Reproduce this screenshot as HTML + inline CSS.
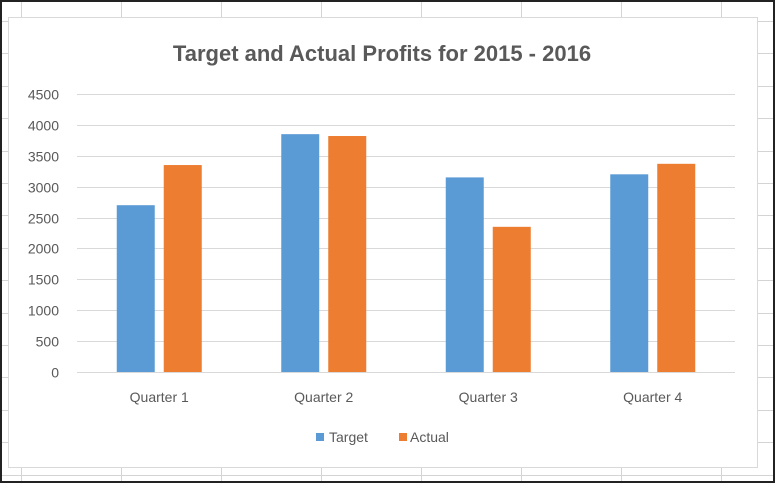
<!DOCTYPE html>
<html><head><meta charset="utf-8"><style>
html,body{margin:0;padding:0;background:#fff}
svg{display:block;font-family:"Liberation Sans",sans-serif}
</style></head><body>
<svg width="775" height="483" viewBox="0 0 775 483">
<rect x="0" y="0" width="775" height="483" fill="#fff"/>
<g id="sheetgrid" stroke="#d4d4d4" stroke-width="1"></g>
<rect x="8.5" y="17.5" width="749" height="450" fill="#fff" stroke="#d9d9d9"/>
<text x="382" y="61" text-anchor="middle" font-size="22" font-weight="bold" fill="#595959">Target and Actual Profits for 2015 - 2016</text>
<g id="grid"></g>
<g id="yticks"></g>
<g id="bars"></g>
<g id="xticks"></g>
<g>
<g><rect x="316" y="433" width="8" height="8" fill="#5b9bd5"/><text x="329" y="442" font-size="14" fill="#595959">Target</text></g>
<g><rect x="399" y="433" width="8" height="8" fill="#ed7d31"/><text x="410" y="442" font-size="14" fill="#595959">Actual</text></g>
</g>
<rect x="1" y="1" width="773" height="481" fill="none" stroke="#222" stroke-width="2"/>
</svg>
<script>
const categories=["Quarter 1","Quarter 2","Quarter 3","Quarter 4"];
const targetValues=[2700,3850,3150,3200];
const actualValues=[3350,3820,2350,3370];
const yTicks=[0,500,1000,1500,2000,2500,3000,3500,4000,4500];
const NS="http://www.w3.org/2000/svg";
function mk(t,a,p){const e=document.createElementNS(NS,t);for(const k in a)e.setAttribute(k,a[k]);p.appendChild(e);return e;}
const sg=document.getElementById('sheetgrid');
for(let x=21;x<775;x+=100){const l=mk('line',{x1:x+.5,y1:0,x2:x+.5,y2:483},sg);}
for(let y=21;y<483;y+=32.4){const l=mk('line',{x1:0,y1:Math.round(y)+.5,x2:775,y2:Math.round(y)+.5},sg);}
const plotL=77,plotR=735,y0=372,yMax=4500,yTop=94;
function yScale(v){return y0-(v/yMax)*(y0-yTop);}
const bw=(plotR-plotL)/categories.length;
function xCenter(i){return plotL+bw*(i+0.5);}
const grid=document.getElementById('grid'),yt=document.getElementById('yticks');
yTicks.forEach(v=>{
 const y=Math.round(yScale(v))+.5;
 const l=mk('line',{x1:plotL,y1:y,x2:plotR,y2:y,stroke:"#d9d9d9","stroke-width":1},grid);
 
 
 const t=mk('text',{x:59,y:y+5,"text-anchor":"end","font-size":14,fill:"#595959"},yt);
 t.textContent=v;
 
 
});
const bars=document.getElementById('bars'),xt=document.getElementById('xticks');
const barW=38,gap=9;
categories.forEach((c,i)=>{
 const cx=xCenter(i);
 const b1=mk('rect',{x:cx-gap/2-barW,y:yScale(targetValues[i]),width:barW,height:y0-yScale(targetValues[i]),fill:"#5b9bd5"},bars);
 
 
 const b2=mk('rect',{x:cx+gap/2,y:yScale(actualValues[i]),width:barW,height:y0-yScale(actualValues[i]),fill:"#ed7d31"},bars);
 
 
 const t=mk('text',{x:cx,y:402,"text-anchor":"middle","font-size":14,fill:"#595959"},xt);
 t.textContent=c;
 
 
});
</script>
</body></html>
